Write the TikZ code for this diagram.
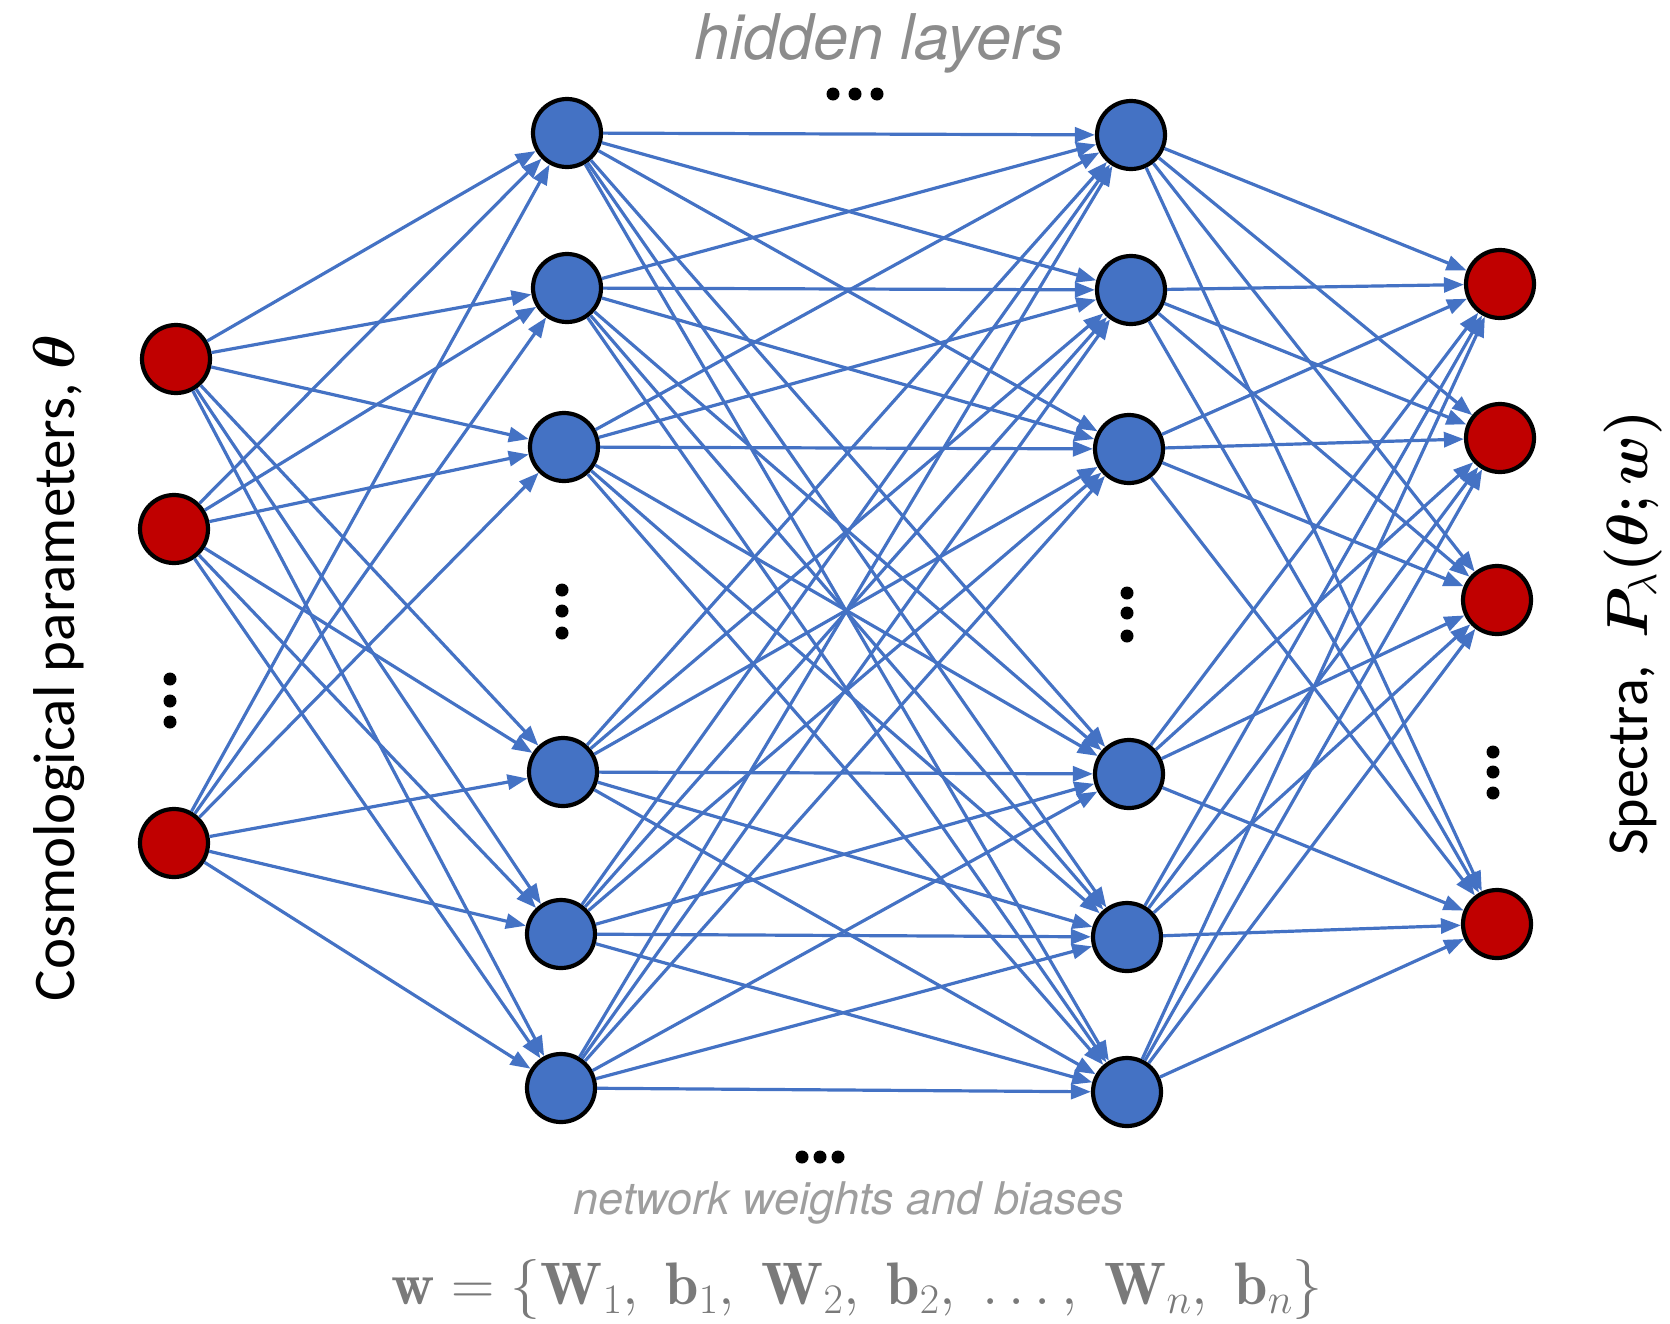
\documentclass[tikz,border=0pt]{standalone}
\usepackage{fix-cm}
\usepackage{amsmath,bm}
\usepackage{fontspec}
\usetikzlibrary{arrows.meta}
\newfontfamily\carlito{Carlito}
\newfontfamily\heros{TeX Gyre Heros}
\definecolor{nnblue}{HTML}{4472C4}
\definecolor{nnred}{HTML}{C00000}
\begin{document}
\begin{tikzpicture}[x=1pt,y=-1pt,
  neuron/.style={circle,draw=black,line width=4.2pt,minimum size=68pt,inner sep=0pt},
  inneuron/.style={neuron,fill=nnred},
  hidneuron/.style={neuron,fill=nnblue},
  conn/.style={draw=nnblue,line width=3.2pt,-{Triangle[length=20pt,width=15pt]}},
  dotmark/.style={fill=black,draw=none},
  lbl/.style={inner sep=0pt}]
\useasboundingbox (0,0) rectangle (1670,1323);
% input layer
\node[inneuron] (i1) at (176,359) {};
\node[inneuron] (i2) at (174,529) {};
\node[inneuron] (i3) at (174,843) {};
% hidden layer 1
\node[hidneuron] (h1) at (567,133) {};
\node[hidneuron] (h2) at (567,288) {};
\node[hidneuron] (h3) at (564,447) {};
\node[hidneuron] (h4) at (563,772) {};
\node[hidneuron] (h5) at (561,934) {};
\node[hidneuron] (h6) at (561,1088) {};
% hidden layer 2
\node[hidneuron] (g1) at (1131,135) {};
\node[hidneuron] (g2) at (1131,290) {};
\node[hidneuron] (g3) at (1129,449) {};
\node[hidneuron] (g4) at (1129,774) {};
\node[hidneuron] (g5) at (1127,937) {};
\node[hidneuron] (g6) at (1127,1092) {};
% output layer
\node[inneuron] (o1) at (1500,284) {};
\node[inneuron] (o2) at (1500,438) {};
\node[inneuron] (o3) at (1497,600) {};
\node[inneuron] (o4) at (1497,924) {};
% connections
\foreach \a in {1,2,3} \foreach \b in {1,...,6} \draw[conn] (i\a) -- (h\b);
\foreach \a in {1,...,6} \foreach \b in {1,...,6} \draw[conn] (h\a) -- (g\b);
\foreach \a in {1,...,6} \foreach \b in {1,...,4} \draw[conn] (g\a) -- (o\b);
% dots
\foreach \y in {679,701,722} \fill[dotmark] (170,\y) circle (6.5);
\foreach \y in {590,611,633} \fill[dotmark] (562,\y) circle (6.5);
\foreach \y in {593,613,636} \fill[dotmark] (1127,\y) circle (6.5);
\foreach \y in {752,772,793} \fill[dotmark] (1493,\y) circle (6.5);
\foreach \x in {833,855,877} \fill[dotmark] (\x,94) circle (6.5);
\foreach \x in {802,820,838} \fill[dotmark] (\x,1157) circle (6.5);
% texts
\node[lbl,text=black!45] (hl) at (879,43) {\heros\itshape\fontsize{63}{72}\selectfont hidden layers};
\node[lbl,text=black!38] (nw) at (849,1203) {\heros\itshape\fontsize{45}{52}\selectfont network weights and biases};
\node[lbl,text=black!52] (fw) at (857,1289) {\fontsize{60}{68}\selectfont $\mathbf{w}=\{\mathbf{W}_1,\;\mathbf{b}_1,\;\mathbf{W}_2,\;\mathbf{b}_2,\;\ldots,\;\mathbf{W}_n,\;\mathbf{b}_n\}$};
\node[lbl,rotate=90] (cl) at (59,668) {\carlito\fontsize{59}{66}\selectfont Cosmological parameters, $\bm{\theta}$};
\node[lbl,rotate=90] (sl) at (1633,633) {\carlito\fontsize{58}{66}\selectfont Spectra,\ \ $\bm{P}_{\lambda}\bm{(\theta;w)}$};
\end{tikzpicture}
\end{document}
